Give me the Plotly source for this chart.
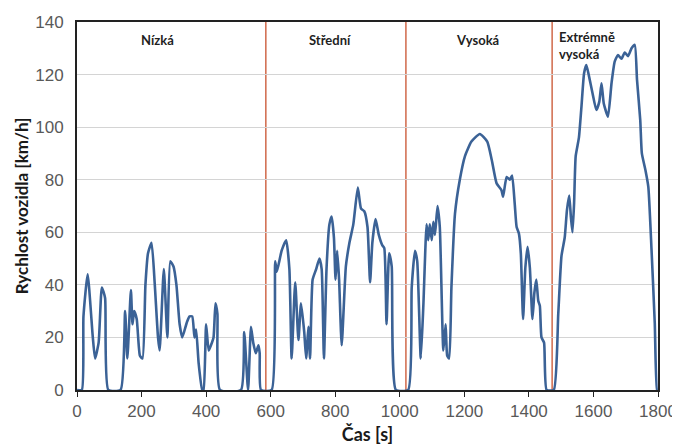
import plotly.graph_objects as go

# cas [s] a rychlost [km/h]
time = [0, 15, 20, 33, 49, 56, 67, 77, 87, 97, 135, 149, 156, 167, 172, 177, 185, 195, 203, 212,
        220, 231, 241, 251, 256, 269, 280, 289, 299, 308, 318, 326, 341, 349, 357, 364, 369, 377,
        388, 392, 400, 408, 415, 423, 429, 435, 443, 508, 518, 530, 539, 546, 554, 562, 566, 570,
        603, 614, 619, 634, 648, 658, 665, 676, 686, 694, 704, 710, 717, 722, 730, 741, 751, 758,
        765, 773, 782, 789, 796, 801, 806, 812, 820, 833, 844, 856, 870, 880, 890, 900, 908, 915,
        925, 935, 946, 952, 959, 967, 975, 988, 1026, 1037, 1047, 1054, 1065, 1073, 1083, 1088,
        1093, 1099, 1104, 1109, 1117, 1124, 1135, 1142, 1147, 1153, 1160, 1171, 1186, 1202, 1222,
        1248, 1271, 1285, 1300, 1315, 1320, 1331, 1341, 1348, 1356, 1362, 1369, 1375, 1382, 1389,
        1396, 1403, 1411, 1417, 1423, 1429, 1434, 1439, 1447, 1455, 1477, 1491, 1501, 1511, 1518,
        1525, 1530, 1535, 1540, 1545, 1555, 1563, 1571, 1578, 1586, 1597, 1609, 1618, 1625, 1632,
        1645, 1656, 1666, 1676, 1687, 1697, 1707, 1718, 1728, 1735, 1745, 1750, 1761, 1770, 1780,
        1790, 1797, 1800]
speed = [0, 0, 28, 44, 20, 12, 18, 39, 35, 0, 0, 30, 12, 38, 25, 30, 27, 13, 12, 40,
         52, 56, 40, 20, 15, 46, 20, 49, 47, 40, 25, 20, 26, 28, 28, 20, 23, 10,
         0, 0, 25, 15, 17, 20, 33, 29, 0, 0, 22, 0, 24, 18, 14, 17, 14, 0,
         0, 49, 45, 53, 57, 46, 12, 41, 19, 33, 22, 12, 24, 12, 42, 46, 50, 46,
         12, 46, 63, 66, 58, 42, 53, 42, 17, 47, 56, 63, 77, 69, 68, 62, 41, 56,
         65, 59, 55, 54, 25, 52, 47, 0, 0, 39, 53, 49, 12, 32, 63, 57,
         63, 57, 64, 59, 70, 62, 15, 25, 13, 12, 39, 67, 80, 89, 94.5,
         97.4, 94.5, 87.5, 78.6, 76, 73.5, 81, 80, 81.6, 71, 62, 59.6, 52, 27, 46.5,
         54.5, 46.5, 27, 37, 42, 34, 32, 20, 18, 0, 0, 29, 51, 58, 68.5,
         74, 66, 60, 71, 89, 96, 108, 120.5, 123.6, 119.5, 113, 106.5, 109.6, 116.7, 109,
         104, 116.7, 125, 127.4, 126, 128.4, 127, 130, 131.3, 118, 102.7, 90, 83.7, 77.3, 53.3,
         25.4, 0, 0]

phase_bounds = [585, 1019, 1472]
phase_names = ["Nízká", "Střední", "Vysoká", "Extrémně<br>vysoká"]

fig = go.Figure()
fig.add_trace(go.Scatter(x=time, y=speed, mode="lines",
                         line=dict(color="#3b6296", width=2.6, shape="spline", smoothing=0.5),
                         showlegend=False))

for b in phase_bounds:
    fig.add_vline(x=b, line=dict(color="#d0694a", width=1.5), layer="below")

lab_x = [248, 784, 1242, 1487]
lab_y = [137, 137, 137, 138]
lab_anchor = ["center", "center", "center", "left"]
for name, x, y, a in zip(phase_names, lab_x, lab_y, lab_anchor):
    fig.add_annotation(x=x, y=y, text="<b>" + name + "</b>", showarrow=False, xanchor=a,
                       yanchor="top", align="left",
                       font=dict(family="Lato", size=13, color="#1f1f1f"))

# stranka ma okraj 8 px, proto je obrazek o 8 px mensi
fig.update_layout(
    width=672, height=437,
    margin=dict(l=69, r=22, t=14, b=55),
    paper_bgcolor="white", plot_bgcolor="white",
    font=dict(family="Liberation Sans", color="#595959", size=17),
)
fig.update_xaxes(range=[0, 1800], tickvals=list(range(0, 1801, 200)),
                 showgrid=False, zeroline=False, automargin=False,
                 showline=True, linecolor="#222222", linewidth=2, mirror=True,
                 ticks="outside", ticklen=5, tickcolor="#222222",
                 title=dict(text="<b>Čas [s]</b>", standoff=10,
                            font=dict(family="Lato", size=18, color="#1a1a1a")))
fig.update_yaxes(range=[0, 140], tickvals=list(range(0, 141, 20)),
                 showgrid=True, gridcolor="#d4d4d4", gridwidth=1, zeroline=False,
                 automargin=False, ticklabelstandoff=8,
                 showline=True, linecolor="#222222", linewidth=2, mirror=True,
                 ticks="",
                 title=dict(text="<b>Rychlost vozidla [km/h]</b>", standoff=2,
                            font=dict(family="Lato", size=17, color="#1a1a1a")))

fig.write_html("out.html")
